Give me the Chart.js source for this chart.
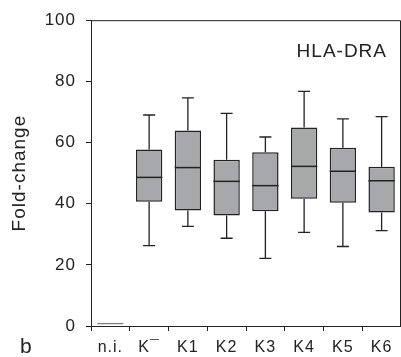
<!DOCTYPE html>
<html>
<head>
<meta charset="utf-8">
<script src="https://cdn.jsdelivr.net/npm/chart.js@4"></script>
<style>
  html, body { margin: 0; padding: 0; background: #fff; }
  #wrap { width: 401px; height: 357px; }
</style>
</head>
<body>
<div id="wrap"><canvas id="boxChart"></canvas></div>
<script>
// ===== Data =====
const categories = ['n.i.', 'K\u00AF', 'K1', 'K2', 'K3', 'K4', 'K5', 'K6'];
const whiskerLow  = [0.75, 26.3, 32.6, 28.7, 22.1, 30.6, 26.0, 31.2];
const quartile1   = [0.45, 40.6, 37.8, 36.1, 37.5, 41.6, 40.3, 37.1];
const medians     = [0.75, 48.6, 51.8, 47.3, 45.9, 52.2, 50.6, 47.5];
const quartile3   = [1.05, 57.7, 63.9, 54.4, 56.8, 64.9, 58.3, 52.1];
const whiskerHigh = [0.75, 69.0, 74.6, 69.5, 61.8, 76.7, 67.7, 68.5];
const yTicks = [0, 20, 40, 60, 80, 100];

const fontFamily = "'Liberation Sans', Arial, Helvetica, sans-serif";
const ink = '#222';
const boxFill = '#a7a8ab';

// ===== Whiskers, medians, frame and labels =====
const boxPlotExtras = {
  id: 'boxPlotExtras',
  beforeLayout(chart) { chart.ctx.letterSpacing = '1px'; },
  beforeDraw(chart) { chart.ctx.letterSpacing = '1px'; },
  afterDatasetsDraw(chart) {
    const { ctx, chartArea } = chart;
    const y = chart.scales.y;
    const bars = chart.getDatasetMeta(0).data;
    ctx.save();
    ctx.strokeStyle = ink;
    bars.forEach((bar, i) => {
      const x = bar.x;
      const half = bar.width / 2;
      const cap = 6;
      ctx.lineWidth = 1.3;
      if (whiskerHigh[i] > quartile3[i]) {
        const top = y.getPixelForValue(whiskerHigh[i]);
        const q3 = y.getPixelForValue(quartile3[i]);
        ctx.beginPath();
        ctx.moveTo(x, q3); ctx.lineTo(x, top);
        ctx.moveTo(x - cap, top); ctx.lineTo(x + cap, top);
        ctx.stroke();
      }
      if (whiskerLow[i] < quartile1[i]) {
        const bot = y.getPixelForValue(whiskerLow[i]);
        const q1 = y.getPixelForValue(quartile1[i]);
        ctx.beginPath();
        ctx.moveTo(x, q1); ctx.lineTo(x, bot);
        ctx.moveTo(x - cap, bot); ctx.lineTo(x + cap, bot);
        ctx.stroke();
      }
      if (quartile3[i] - quartile1[i] > 2) {
        const m = y.getPixelForValue(medians[i]);
        ctx.lineWidth = 1.5;
        ctx.beginPath();
        ctx.moveTo(x - half, m); ctx.lineTo(x + half, m);
        ctx.stroke();
      }
    });
    // top and right edges of the frame
    ctx.lineWidth = 1;
    ctx.beginPath();
    ctx.moveTo(chartArea.left, chartArea.top + 0.5);
    ctx.lineTo(chartArea.right - 0.5, chartArea.top + 0.5);
    ctx.lineTo(chartArea.right - 0.5, chartArea.bottom);
    ctx.stroke();
    // panel labels
    ctx.fillStyle = ink;
    ctx.font = '19px ' + fontFamily;
    ctx.textAlign = 'right';
    ctx.textBaseline = 'alphabetic';
    ctx.fillText('HLA-DRA', 387, 57);
    ctx.font = '21px ' + fontFamily;
    ctx.textAlign = 'left';
    ctx.fillText('b', 20, 353);
    ctx.restore();
  }
};

// ===== Box chart =====
function initBoxChart() {
  const ctx = document.getElementById('boxChart');
  if (!ctx) return;

  Chart.defaults.font.family = fontFamily;
  Chart.defaults.color = ink;

  new Chart(ctx, {
    type: 'bar',
    data: {
      labels: categories,
      datasets: [{
        data: categories.map((_, i) => [quartile1[i], quartile3[i]]),
        backgroundColor: categories.map((_, i) => i === 0 ? '#7d7d7d' : boxFill),
        borderColor: categories.map((_, i) => i === 0 ? '#7d7d7d' : ink),
        borderWidth: 1.5,
        borderSkipped: false,
        categoryPercentage: 1,
        barPercentage: 0.68
      }]
    },
    options: {
      responsive: true,
      maintainAspectRatio: false,
      animation: false,
      layout: { padding: { top: 17, right: 0, left: 0, bottom: 0 } },
      plugins: { legend: { display: false }, tooltip: { enabled: false } },
      scales: {
        x: {
          offset: true,
          grid: { display: true, drawOnChartArea: false, tickLength: 5, color: ink },
          border: { display: true, color: ink, width: 1 },
          ticks: { font: { size: 16 }, padding: 7, color: ink, maxRotation: 0 },
          afterFit: (s) => { s.height = 31; }
        },
        y: {
          min: 0,
          max: 100,
          afterBuildTicks: (s) => { s.ticks = yTicks.map(v => ({ value: v })); },
          grid: { display: true, drawOnChartArea: false, tickLength: 5, color: ink },
          border: { display: true, color: ink, width: 1 },
          ticks: { font: { size: 17 }, padding: 10, color: ink },
          title: { display: true, text: 'Fold-change', font: { size: 19 }, color: ink, padding: { top: 8, bottom: 0 } },
          afterFit: (s) => { s.width = 91; }
        }
      }
    },
    plugins: [boxPlotExtras]
  });
}

document.addEventListener('DOMContentLoaded', () => {
  if (typeof Chart !== 'undefined') initBoxChart();
});
</script>
</body>
</html>
